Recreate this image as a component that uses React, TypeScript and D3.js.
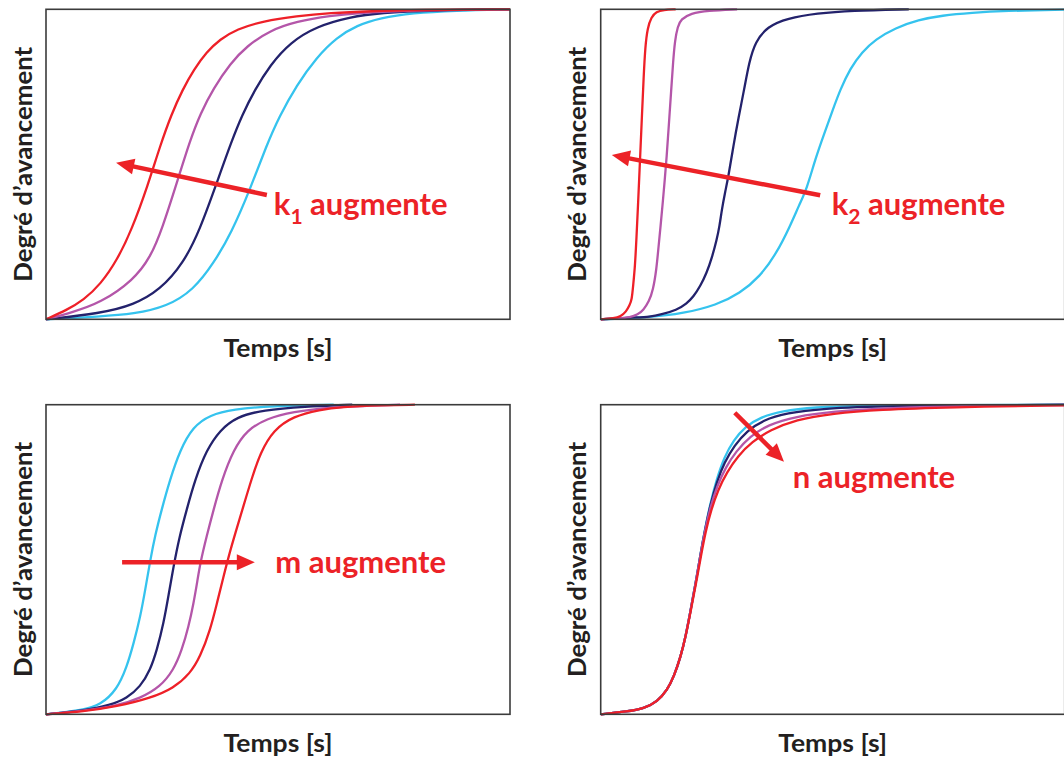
import React from 'react';
import * as d3 from 'd3';

type Pt = [number, number];

// ---------- Data (time in % of axis, degree of advancement 0..1) ----------
// Panel 1 : k1 increases
const P1_LIGHTBLUE: Pt[] = [[0,0],[11.7,0.009],[18.9,0.017],[26.1,0.041],[31.8,0.095],[36.1,0.18],[40.0,0.28],[44.0,0.42],[47.5,0.56],[50.3,0.655],[54.0,0.755],[58.3,0.845],[62.7,0.91],[67,0.948],[72,0.972],[79,0.988],[88,0.996],[100,1]];
const P1_NAVY: Pt[] = [[0,0],[11.7,0.019],[18.9,0.046],[24.6,0.095],[29.6,0.18],[33.2,0.29],[36.8,0.44],[40.0,0.575],[42.3,0.66],[45.0,0.74],[48.3,0.82],[52.6,0.893],[58.3,0.945],[65.5,0.975],[72,0.989],[83.5,0.997],[100,1]];
const P1_PURPLE: Pt[] = [[0,0],[5.5,0.022],[11.7,0.052],[18.9,0.127],[22.5,0.2],[25.0,0.29],[28.5,0.455],[31.0,0.575],[33.3,0.665],[36.1,0.745],[39.7,0.825],[43.3,0.882],[48.3,0.932],[54,0.961],[61.2,0.979],[68,0.989],[78,0.996],[100,1]];
const P1_RED: Pt[] = [[0,0],[4.5,0.03],[8.1,0.062],[11.7,0.112],[15.3,0.19],[18.5,0.29],[21.9,0.43],[24.6,0.56],[27.0,0.66],[29.4,0.74],[31.9,0.806],[34.6,0.862],[37.5,0.903],[41.1,0.936],[46.8,0.962],[54,0.978],[61.2,0.988],[70,0.994],[80,0.998],[100,1]];

// Panel 2 : k2 increases
const P2_LIGHTBLUE: Pt[] = [[0,0],[10.6,0.006],[17.8,0.019],[25.0,0.046],[30.0,0.084],[34.3,0.137],[37.9,0.213],[40.8,0.3],[42.8,0.37],[44.4,0.42],[46.3,0.52],[48.2,0.6],[50,0.675],[51.6,0.74],[53.8,0.81],[56.3,0.862],[59.2,0.903],[63.5,0.94],[68.5,0.966],[73.5,0.98],[80,0.989],[87,0.995],[100,0.999]];
const P2_NAVY: Pt[] = [[0,0],[7.18,0.006],[10.6,0.008],[13,0.015],[16.4,0.03],[18.5,0.05],[20.0,0.073],[21.5,0.108],[22.8,0.148],[24.0,0.2],[25.0,0.256],[25.6,0.3],[26.1,0.353],[26.8,0.41],[27.5,0.458],[28.6,0.56],[29.7,0.65],[30.9,0.74],[32,0.83],[33.3,0.895],[35.9,0.944],[40.2,0.971],[46.66,0.987],[53.84,0.996],[66.4,1]];
const P2_PURPLE: Pt[] = [[0,0],[4.0,0.003],[6.3,0.006],[8.0,0.015],[9.2,0.03],[10.4,0.057],[11.3,0.095],[12.0,0.16],[12.4,0.224],[12.9,0.3],[13.4,0.38],[13.8,0.45],[14.2,0.52],[14.7,0.63],[15.2,0.74],[15.6,0.83],[16.0,0.9],[16.6,0.945],[17.3,0.968],[19.4,0.987],[23,0.996],[29.4,1]];
const P2_RED: Pt[] = [[0,0],[2.9,0.003],[4.3,0.009],[5.5,0.025],[6.2,0.045],[6.7,0.062],[7.0,0.11],[7.39,0.17],[7.7,0.26],[8.0,0.353],[8.47,0.514],[8.9,0.66],[9.25,0.78],[9.6,0.88],[10.1,0.94],[10.9,0.975],[12.0,0.992],[13.5,0.998],[16.15,1]];

// Panel 3 : m increases
const P3_LIGHTBLUE: Pt[] = [[0,0],[8.11,0.014],[11.7,0.03],[15.29,0.079],[17.44,0.154],[18.88,0.229],[20.32,0.315],[21.39,0.402],[22.47,0.498],[23.55,0.58],[24.9,0.66],[26.7,0.757],[28.9,0.854],[31.7,0.929],[35.3,0.967],[40.4,0.985],[48.3,0.996],[62,1]];
const P3_NAVY: Pt[] = [[0,0],[8.11,0.012],[13.85,0.03],[17.44,0.052],[20.32,0.089],[22.47,0.143],[23.91,0.208],[25.34,0.294],[26.42,0.385],[27.49,0.478],[28.7,0.57],[30.3,0.66],[32.1,0.757],[34.6,0.854],[37.5,0.918],[41.1,0.961],[46.8,0.983],[55.5,0.994],[66,1]];
const P3_PURPLE: Pt[] = [[0,0],[8.11,0.011],[15.29,0.027],[20.32,0.052],[24.62,0.089],[27.49,0.143],[29.29,0.208],[30.72,0.283],[31.8,0.358],[32.66,0.434],[33.24,0.488],[34.6,0.574],[36.1,0.66],[37.9,0.757],[40.4,0.854],[43.3,0.918],[47.6,0.956],[53.3,0.977],[60.5,0.992],[76.3,1]];
const P3_RED: Pt[] = [[0,0],[8.11,0.009],[15.29,0.025],[22.47,0.052],[27.49,0.084],[31.08,0.132],[33.24,0.186],[35.39,0.272],[36.83,0.358],[38.26,0.445],[39.34,0.509],[40.9,0.59],[42.5,0.67],[44.3,0.76],[46.2,0.845],[49.0,0.918],[53.3,0.963],[59.1,0.984],[63.4,0.993],[72.7,0.998],[79.5,1]];

// Panel 4 : n increases
const P4_LIGHTBLUE: Pt[] = [[0,0],[5.74,0.009],[9.33,0.019],[12.2,0.041],[14.36,0.079],[15.79,0.122],[17.23,0.186],[18.31,0.251],[19.38,0.337],[20.46,0.423],[21.54,0.52],[22.5,0.6],[23.6,0.68],[25.0,0.76],[26.6,0.83],[28.6,0.885],[31.2,0.93],[34.5,0.96],[39,0.98],[46,0.992],[56,0.998],[100,1]];
const P4_NAVY: Pt[] = [[0,0],[5.74,0.009],[9.33,0.019],[12.2,0.041],[14.36,0.079],[15.79,0.122],[17.23,0.186],[18.31,0.251],[19.38,0.337],[20.46,0.423],[21.54,0.52],[22.5,0.598],[23.6,0.675],[25.0,0.75],[26.7,0.815],[28.8,0.868],[31.5,0.915],[35,0.95],[40,0.973],[48,0.988],[60,0.996],[100,1]];
const P4_PURPLE: Pt[] = [[0,0],[5.74,0.009],[9.33,0.019],[12.2,0.041],[14.36,0.079],[15.79,0.122],[17.23,0.186],[18.31,0.251],[19.38,0.337],[20.46,0.423],[21.54,0.518],[22.5,0.595],[23.6,0.668],[25.1,0.738],[26.9,0.797],[29.2,0.85],[32.2,0.898],[36,0.935],[42,0.962],[50,0.978],[62,0.99],[80,0.997],[100,0.999]];
const P4_RED: Pt[] = [[0,0],[5.74,0.009],[9.33,0.019],[12.2,0.041],[14.36,0.079],[15.79,0.122],[17.23,0.186],[18.31,0.251],[19.45,0.337],[20.55,0.423],[21.65,0.515],[22.6,0.59],[23.8,0.66],[25.3,0.725],[27.2,0.782],[29.6,0.835],[32.6,0.88],[36.5,0.918],[42,0.952],[50,0.972],[60,0.984],[75,0.992],[100,0.998]];

// ---------- Texts ----------
const Y_LABEL = 'Degré d’avancement';
const X_LABEL = 'Temps [s]';
const ANNOT_MAIN = ['k', 'k', 'm', 'n'];
const ANNOT_SUB = ['1', '2', '', ''];
const ANNOT_TAIL = ' augmente';

// ---------- Styles / layout ----------
const COLORS = {
  lightblue: '#35c3ee',
  navy: '#23226c',
  purple: '#b456a9',
  red: '#ee2028',
};
const TEXT_COLOR = '#231f20';
const ANNOT_COLOR = '#ec2227';
const FONT = 'Lato, "Open Sans", sans-serif';

interface PanelDef {
  left: number;
  top: number;
  height: number;
  series: { data: Pt[]; color: string }[];
  arrow: { from: Pt; to: Pt };
  label: Pt;
  idx: number;
}

const PW = 464;

const PANELS: PanelDef[] = [
  {
    left: 46, top: 9.3, height: 310, idx: 0,
    series: [
      { data: P1_LIGHTBLUE, color: COLORS.lightblue },
      { data: P1_NAVY, color: COLORS.navy },
      { data: P1_PURPLE, color: COLORS.purple },
      { data: P1_RED, color: COLORS.red },
    ],
    arrow: { from: [47.6, 0.401], to: [15.1, 0.505] },
    label: [49.1, 0.336],
  },
  {
    left: 600.7, top: 9.3, height: 310, idx: 1,
    series: [
      { data: P2_LIGHTBLUE, color: COLORS.lightblue },
      { data: P2_NAVY, color: COLORS.navy },
      { data: P2_PURPLE, color: COLORS.purple },
      { data: P2_RED, color: COLORS.red },
    ],
    arrow: { from: [47.3, 0.4], to: [2.4, 0.53] },
    label: [49.8, 0.336],
  },
  {
    left: 46, top: 404.7, height: 309.6, idx: 2,
    series: [
      { data: P3_LIGHTBLUE, color: COLORS.lightblue },
      { data: P3_NAVY, color: COLORS.navy },
      { data: P3_PURPLE, color: COLORS.purple },
      { data: P3_RED, color: COLORS.red },
    ],
    arrow: { from: [16.4, 0.491], to: [45.0, 0.491] },
    label: [49.4, 0.456],
  },
  {
    left: 600.7, top: 404.7, height: 309.6, idx: 3,
    series: [
      { data: P4_LIGHTBLUE, color: COLORS.lightblue },
      { data: P4_NAVY, color: COLORS.navy },
      { data: P4_PURPLE, color: COLORS.purple },
      { data: P4_RED, color: COLORS.red },
    ],
    arrow: { from: [28.9, 0.974], to: [39.5, 0.816] },
    label: [41.4, 0.731],
  },
];

function Panel({ p }: { p: PanelDef }) {
  const h = p.height;
  const x = d3.scaleLinear().domain([0, 100]).range([p.left, p.left + PW]);
  const y = d3.scaleLinear().domain([0, 1]).range([p.top + h, p.top]);
  const line = d3
    .line<Pt>()
    .x((d) => x(d[0]))
    .y((d) => y(d[1]))
    .curve(d3.curveBasis);

  const [ax0, ay0] = [x(p.arrow.from[0]), y(p.arrow.from[1])];
  const [ax1, ay1] = [x(p.arrow.to[0]), y(p.arrow.to[1])];
  const ang = Math.atan2(ay1 - ay0, ax1 - ax0);
  const headL = 18;
  const headW = 16;
  const bx = ax1 - headL * Math.cos(ang);
  const by = ay1 - headL * Math.sin(ang);
  const px = -Math.sin(ang);
  const py = Math.cos(ang);
  const head = `${ax1},${ay1} ${bx + (px * headW) / 2},${by + (py * headW) / 2} ${bx - (px * headW) / 2},${by - (py * headW) / 2}`;
  const lineEndX = ax1 - (headL - 3) * Math.cos(ang);
  const lineEndY = ay1 - (headL - 3) * Math.sin(ang);

  const clipId = `clip-${p.idx}`;
  return (
    <g>
      <defs>
        <clipPath id={clipId}>
          <rect x={p.left} y={p.top - 3} width={PW} height={h + 6} />
        </clipPath>
      </defs>
      <g clipPath={`url(#${clipId})`}>
        {p.series.map((s, i) => (
          <path key={i} d={line(s.data) || ''} fill="none" stroke={s.color} strokeWidth={2.3} strokeLinejoin="round" />
        ))}
      </g>
      <rect x={p.left} y={p.top} width={PW} height={h} fill="none" stroke="#3b3b3b" strokeWidth={1.6} />
      <line x1={ax0} y1={ay0} x2={lineEndX} y2={lineEndY} stroke={ANNOT_COLOR} strokeWidth={4.5} />
      <polygon points={head} fill={ANNOT_COLOR} />
      <text x={x(p.label[0])} y={y(p.label[1])} fill={ANNOT_COLOR} fontFamily={FONT} fontWeight={700} fontSize={31}>
        {ANNOT_MAIN[p.idx]}
        {ANNOT_SUB[p.idx] ? (
          <tspan dy={9} fontSize={21}>{ANNOT_SUB[p.idx]}</tspan>
        ) : null}
        <tspan dy={ANNOT_SUB[p.idx] ? -9 : 0}>{ANNOT_TAIL}</tspan>
      </text>
      <text
        transform={`translate(${p.left - 14.5},${p.top + h / 2}) rotate(-90)`}
        textAnchor="middle"
        fill={TEXT_COLOR}
        fontFamily={FONT}
        fontWeight={700}
        fontSize={25}
        textLength={235}
        lengthAdjust="spacingAndGlyphs"
      >
        {Y_LABEL}
      </text>
      <text
        x={p.left + PW / 2}
        y={p.top + h + 37.4}
        textAnchor="middle"
        fill={TEXT_COLOR}
        fontFamily={FONT}
        fontWeight={700}
        fontSize={25}
        textLength={109}
        lengthAdjust="spacingAndGlyphs"
      >
        {X_LABEL}
      </text>
    </g>
  );
}

export default function App() {
  return (
    <svg
      width={1064}
      height={758}
      style={{ position: 'absolute', left: 0, top: 0, background: '#fff' }}
    >
      <rect x={0} y={0} width={1064} height={758} fill="#fff" />
      {PANELS.map((p) => (
        <Panel key={p.idx} p={p} />
      ))}
    </svg>
  );
}
